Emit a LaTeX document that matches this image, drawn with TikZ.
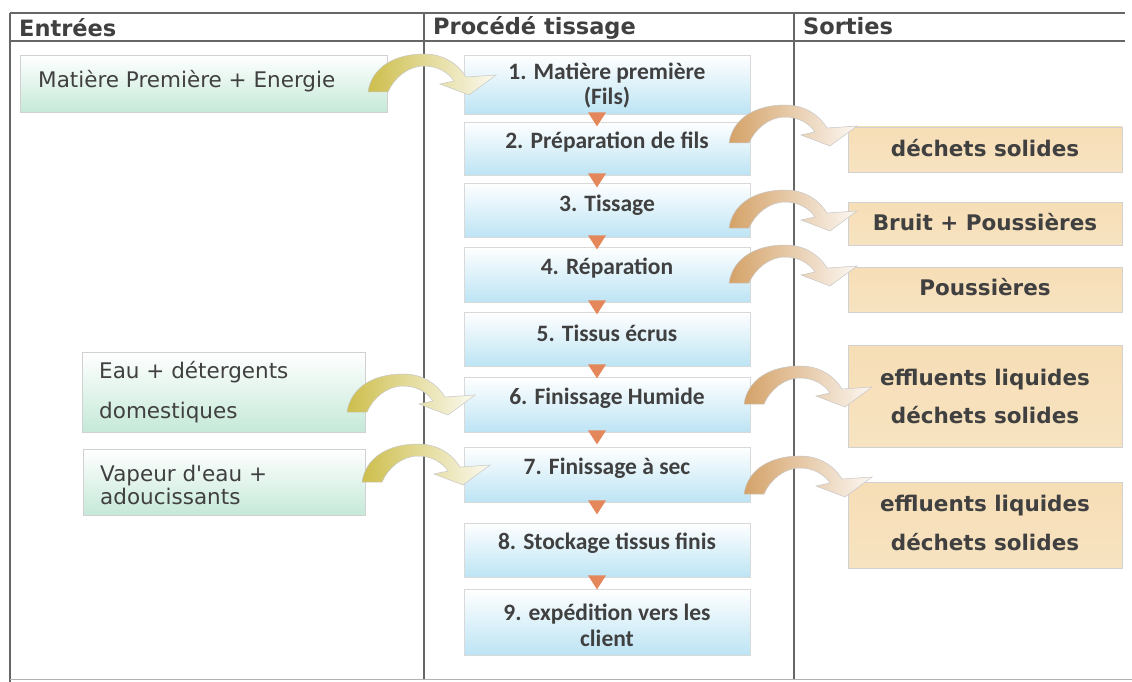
\documentclass[tikz,border=0pt]{standalone}
\usepackage{fontspec}
\setmainfont{DejaVu Sans}
\newfontfamily\calfont{Carlito}
\font\plainvs="DejaVu Sans" at 21.5pt
\usetikzlibrary{calc}
\definecolor{mblue}{HTML}{BDE4F4}
\definecolor{mint}{HTML}{C5E9D8}
\definecolor{tanbox}{HTML}{F6DEB6}
\definecolor{tricol}{HTML}{E4875B}
\definecolor{ylw}{HTML}{CDBE4C}
\definecolor{brn}{HTML}{D4A268}
\definecolor{txt}{HTML}{404040}
\definecolor{rulecol}{HTML}{666666}
\tikzset{
  pics/bend/.style={code={
    \shade[left color=#1, middle color=#1!60, right color=#1!8, draw=black!22, line width=0.5]
      (-56,32) .. controls (-52,6) and (-28,-6) .. (0,-6)
      .. controls (20,-6) and (34,4) .. (42,17) -- (72,15) -- (45,35) -- (16,24) -- (30,21)
      .. controls (24,12) and (13,6) .. (0,6)
      .. controls (-16,6) and (-30,18) .. (-36,32) -- cycle;
  }},
  hdr/.style={font=\bfseries\fontsize{22.5}{26}\selectfont, text=txt, anchor=west, inner sep=0},
  lbox/.style={draw=black!18, line width=0.8, top color=white, middle color=mint!45, bottom color=mint, inner sep=0, anchor=north west},
  ltxt/.style={font=\fontsize{21.5}{24}\selectfont, text=txt, anchor=west, align=left, inner sep=0},
  mbox/.style={draw=black!15, line width=0.8, top color=white, middle color=mblue!40, bottom color=mblue, inner sep=0, minimum width=286},
  mtxt/.style={font=\calfont\bfseries\fontsize{23.5}{25}\selectfont, text=txt, align=center, inner sep=0},
  rbox/.style={draw=black!18, line width=0.8, top color=tanbox, bottom color=tanbox!85!white, inner sep=0, minimum width=274},
  rtxt/.style={font=\bfseries\fontsize{21.5}{25}\selectfont, text=txt, align=center, inner sep=0},
  rulel/.style={draw=rulecol, line width=1.3}
}
\begin{document}
\begin{tikzpicture}[x=1pt,y=-1pt]
\useasboundingbox[fill=white] (0,0) rectangle (1132,682);
% table
\draw[rulel] (10,13) -- (1125,13);
\draw[rulel] (10,41) -- (1125,41);
\draw[rulel] (10,13) -- (10,682);
\draw[rulel] (424,13) -- (424,680);
\draw[rulel] (794,13) -- (794,680);
\draw[draw=black!30, line width=0.8] (10,679) -- (1132,679);
\node[hdr] (hE) at (19,28) {Entrées};
\node[hdr] (hP) at (433,28) {Procédé tissage};
\node[hdr] (hS) at (803,26) {Sorties};
% inputs
\node[lbox, minimum width=367, minimum height=57] (inA) at (20,55) {};
\node[ltxt] (tA) at (38,81) {Matière Première + Energie};
\node[lbox, minimum width=283, minimum height=80] (inB) at (82,352) {};
\node[ltxt] (tB) at (99,392) {Eau + détergents\\[16pt]domestiques};
\node[lbox, minimum width=282, minimum height=66] (inC) at (83,449) {};
\node[ltxt, font={\plainvs\baselineskip=23pt}] (tC) at (100,485) {Vapeur d'eau +\\adoucissants};
% process
\node[mbox, minimum height=59] (m1) at (607,84.5) {};
\node[mbox, minimum height=53] (m2) at (607,148.5) {};
\node[mbox, minimum height=54] (m3) at (607,210) {};
\node[mbox, minimum height=55] (m4) at (607,274.5) {};
\node[mbox, minimum height=54] (m5) at (607,339) {};
\node[mbox, minimum height=55] (m6) at (607,404.5) {};
\node[mbox, minimum height=55] (m7) at (607,474.5) {};
\node[mbox, minimum height=54] (m8) at (607,550) {};
\node[mbox, minimum height=66] (m9) at (607,622) {};
\node[mtxt] (t1) at (607,85.5) {1. Matière première\\(Fils)};
\node[mtxt] (t2) at (607,142) {2. Préparation de fils};
\node[mtxt] (t3) at (607,205) {3. Tissage};
\node[mtxt] (t4) at (607,268) {4. Réparation};
\node[mtxt] (t5) at (607,333) {5. Tissus écrus};
\node[mtxt] (t6) at (607,398) {6. Finissage Humide};
\node[mtxt] (t7) at (607,468) {7. Finissage à sec};
\node[mtxt] (t8) at (607,543) {8. Stockage tissus finis};
\node[mtxt] (t9) at (607,625) {9. expédition vers les\\[1pt]client};
\foreach \a in {m1,m2,m3,m4,m5,m6,m7,m8}
  \fill[tricol] ($(\a.south)+(-19,-2)$) -- ($(\a.south)+(-1,-2)$) -- ($(\a.south)+(-10,12)$) -- cycle;
% outputs
\node[rbox, minimum height=45] (r1) at (985,149.5) {};
\node[rbox, minimum height=43] (r2) at (985,223.5) {};
\node[rbox, minimum height=45] (r3) at (985,289.5) {};
\node[rbox, minimum height=102] (r4) at (985,396) {};
\node[rbox, minimum height=86] (r5) at (985,525) {};
\node[rtxt] (u1) at (985,148) {déchets solides};
\node[rtxt] (u2) at (985,222) {Bruit + Poussières};
\node[rtxt] (u3) at (985,287) {Poussières};
\node[rtxt] (u4) at (985,396) {effluents liquides\\[13pt]déchets solides};
\node[rtxt] (u5) at (985,522.5) {effluents liquides\\[14pt]déchets solides};
% bending arrows
\pic at (424,60) {bend=ylw};
\pic at (403,380) {bend=ylw};
\pic at (418,450) {bend=ylw};
\pic at (785,111) {bend=brn};
\pic at (785,196) {bend=brn};
\pic at (785,251) {bend=brn};
\pic at (800,372) {bend=brn};
\pic at (800,462) {bend=brn};
\end{tikzpicture}
\end{document}
